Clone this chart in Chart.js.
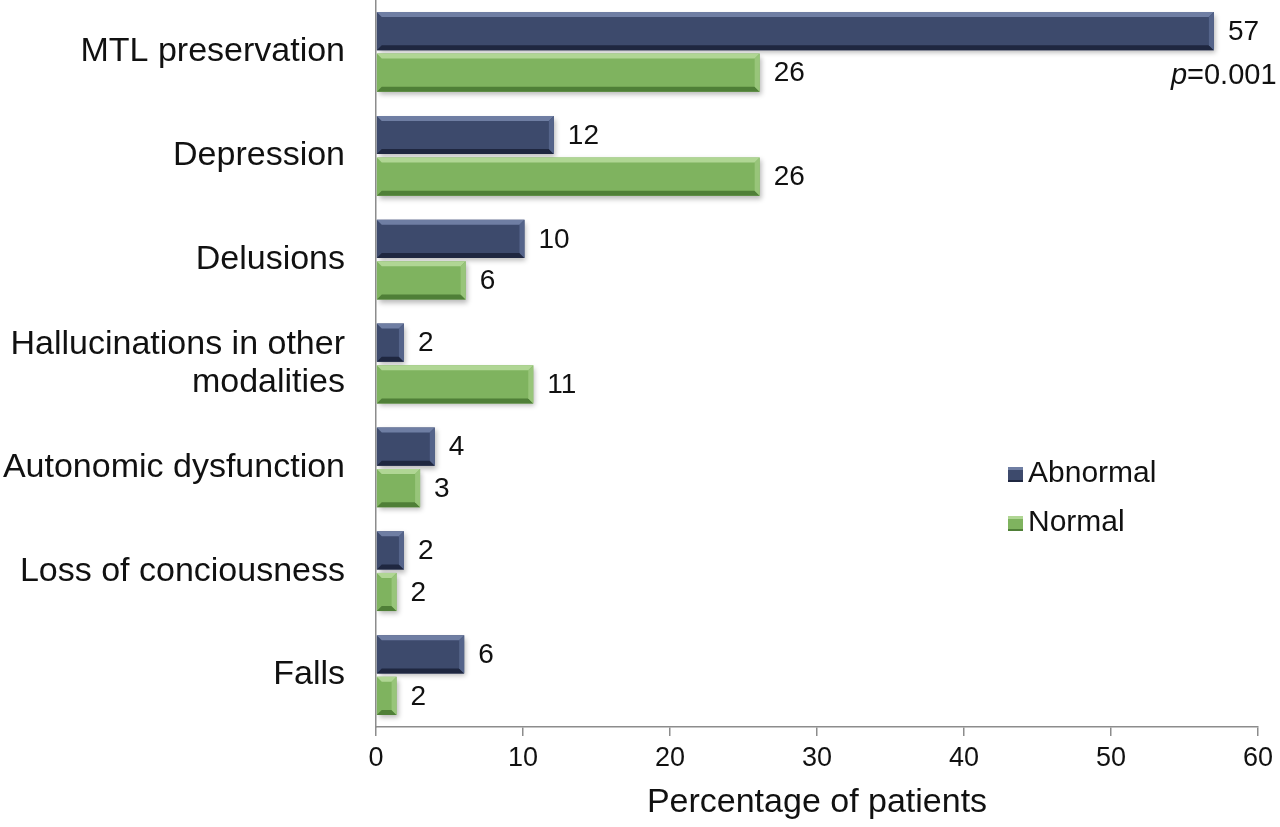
<!DOCTYPE html>
<html>
<head>
<meta charset="utf-8">
<script src="https://cdn.jsdelivr.net/npm/chart.js@4.4.0/dist/chart.umd.min.js"></script>
<style>
  html, body { margin: 0; padding: 0; background: #fff; }
  #wrap { width: 1280px; height: 827px; }
</style>
</head>
<body>
<div id="wrap"><canvas id="chart"></canvas></div>
<script>
// data
const categories = ['MTL preservation', 'Depression', 'Delusions', ['Hallucinations in other', 'modalities'],
                    'Autonomic dysfunction', 'Loss of conciousness', 'Falls'];
const abnormalValues = [57, 12.1, 10.1, 1.9, 4.0, 1.9, 6.0];
const normalValues = [26.1, 26.1, 6.1, 10.7, 3.0, 1.4, 1.4];
const abnormalLabels = ['57', '12', '10', '2', '4', '2', '6'];
const normalLabels = ['26', '26', '6', '11', '3', '2', '2'];
const xTicks = [0, 10, 20, 30, 40, 50, 60];
const pValueText = '=0.001';

const FONT = '"Liberation Sans", Arial, sans-serif';

// bevel colours per dataset (light top, dark bottom, right end)
const bevelStyles = [
    { top: '#6f7ea3', bottom: '#1f2740', end: '#55648a' },
    { top: '#b0d694', bottom: '#4f7f37', end: '#98c57a' }
];

const barDecorations = {
    id: 'barDecorations',
    beforeDatasetsDraw(chart) {
        const ctx = chart.ctx;
        ctx.save();
        ctx.shadowColor = 'rgba(0,0,0,0.28)';
        ctx.shadowBlur = 5;
        ctx.shadowOffsetX = 2;
        ctx.shadowOffsetY = 3;
    },
    afterDatasetsDraw(chart) {
        const ctx = chart.ctx;
        ctx.restore();

        const allLabels = [abnormalLabels, normalLabels];
        chart.data.datasets.forEach((ds, di) => {
            const meta = chart.getDatasetMeta(di);
            const st = bevelStyles[di];
            meta.data.forEach((bar, i) => {
                const p = bar.getProps(['x', 'y', 'base', 'height'], true);
                const left = p.base, right = p.x;
                const top = p.y - p.height / 2, bottom = p.y + p.height / 2;
                const b = Math.min(5, (right - left) / 2);

                ctx.fillStyle = st.top;
                ctx.beginPath();
                ctx.moveTo(left, top); ctx.lineTo(right, top);
                ctx.lineTo(right - b, top + b); ctx.lineTo(left + b, top + b);
                ctx.closePath(); ctx.fill();

                ctx.fillStyle = st.bottom;
                ctx.beginPath();
                ctx.moveTo(left, bottom); ctx.lineTo(right, bottom);
                ctx.lineTo(right - b, bottom - b); ctx.lineTo(left + b, bottom - b);
                ctx.closePath(); ctx.fill();

                ctx.fillStyle = st.end;
                ctx.beginPath();
                ctx.moveTo(right, top); ctx.lineTo(right, bottom);
                ctx.lineTo(right - b, bottom - b); ctx.lineTo(right - b, top + b);
                ctx.closePath(); ctx.fill();

                // value label
                ctx.fillStyle = '#111';
                ctx.font = '28px ' + FONT;
                ctx.textAlign = 'left';
                ctx.textBaseline = 'middle';
                ctx.fillText(allLabels[di][i], right + 14, p.y + 1);

                // p value under the first bar
                if (di === 0 && i === 0) {
                    const px = right - 43, py = p.y + 45;
                    ctx.font = 'italic 29px ' + FONT;
                    ctx.fillText('p', px, py);
                    const w = ctx.measureText('p').width;
                    ctx.font = '29px ' + FONT;
                    ctx.fillText(pValueText, px + w, py);
                }
            });
        });
    },
    afterDraw(chart) {
        // legend inside the plot, right side
        const ctx = chart.ctx;
        const items = chart.data.datasets;
        const x0 = 1008, y0 = 474, step = 49;
        items.forEach((ds, di) => {
            const cy = y0 + di * step;
            ctx.fillStyle = ds.backgroundColor;
            ctx.fillRect(x0, cy - 7, 15, 15);
            ctx.fillStyle = bevelStyles[di].top;
            ctx.fillRect(x0, cy - 7, 15, 3);
            ctx.fillStyle = bevelStyles[di].bottom;
            ctx.fillRect(x0, cy + 6, 15, 2);
            ctx.fillStyle = '#111';
            ctx.font = '30px ' + FONT;
            ctx.textAlign = 'left';
            ctx.textBaseline = 'middle';
            ctx.fillText(ds.label, x0 + 20, cy);
        });
    }
};

new Chart(document.getElementById('chart'), {
    type: 'bar',
    data: {
        labels: categories,
        datasets: [
            { label: 'Abnormal', data: abnormalValues, backgroundColor: '#3d4a6c',
              barPercentage: 0.92, categoryPercentage: 0.8 },
            { label: 'Normal', data: normalValues, backgroundColor: '#7fb35f',
              barPercentage: 0.92, categoryPercentage: 0.8 }
        ]
    },
    options: {
        indexAxis: 'y',
        responsive: true,
        maintainAspectRatio: false,
        animation: false,
        layout: { padding: { top: 0, right: 22, left: 0, bottom: 0 } },
        plugins: {
            legend: { display: false },
            tooltip: { enabled: false }
        },
        scales: {
            x: {
                min: 0, max: 60,
                afterBuildTicks(scale) { scale.ticks = xTicks.map(v => ({ value: v })); },
                afterFit(scale) { scale.height = 100; },
                grid: { display: true, drawOnChartArea: false, drawTicks: true, tickLength: 9, color: '#8c8c8c', lineWidth: 1.5 },
                border: { display: true, color: '#8c8c8c', width: 1.5 },
                ticks: { color: '#111', padding: 6, font: { family: FONT, size: 27 } },
                title: { display: true, text: 'Percentage of patients', color: '#111',
                         padding: { top: 10, bottom: 4 }, font: { family: FONT, size: 34 } }
            },
            y: {
                afterFit(scale) {
                    scale.width = 376;
                    scale.paddingTop = 0;
                    scale.paddingBottom = 0;
                },
                grid: { display: false, drawTicks: false },
                border: { display: true, color: '#8c8c8c', width: 1.5 },
                ticks: { color: '#111', padding: 31, font: { family: FONT, size: 34, lineHeight: 1.12 } }
            }
        }
    },
    plugins: [barDecorations]
});
</script>
</body>
</html>
